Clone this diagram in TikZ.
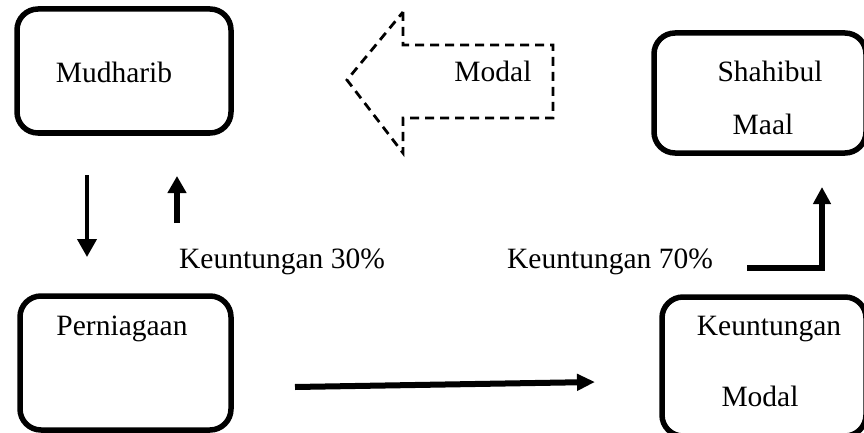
\documentclass[tikz,border=0pt]{standalone}
\usepackage{fontspec}
\setmainfont{Liberation Serif}
\usetikzlibrary{arrows.meta}
\begin{document}
\begin{tikzpicture}[x=1pt,y=-1pt,
  box/.style={draw=black,line width=5.5pt,rounded corners=21pt,inner sep=0pt,minimum width=#1},
  lbl/.style={anchor=base,inner sep=0pt,font=\fontsize{29.5}{34}\selectfont},
  hollow/.style={draw=black,line width=2.8pt,dash pattern=on 9pt off 6pt},
  flow/.style={draw=black,line width=#1,-{Triangle[length=18pt,width=19pt]}}]
\clip (0,0) rectangle (864,433);

% boxes
\node[box=214pt,minimum height=124pt] (mud) at (124,71) {};
\node[box=212pt,minimum height=120pt] (sha) at (760,93) {};
\node[box=211pt,minimum height=134pt] (per) at (125.5,363) {};
\node[box=204pt,minimum height=139pt] (keu) at (764,366.5) {};

% box texts
\node[lbl] (tmud) at (114,83) {Mudharib};
\node[lbl] (tsha1) at (770,82) {Shahibul};
\node[lbl] (tsha2) at (763,135) {Maal};
\node[lbl] (tper) at (122,335) {Perniagaan};
\node[lbl] (tkeu1) at (769,335) {Keuntungan};
\node[lbl] (tkeu2) at (760,406) {Modal};

% hollow arrow for the capital
\draw[hollow] (403,12) -- (403,45) -- (553,45) -- (553,118) -- (403,118)
  -- (403,153) -- (347,80) -- cycle;
\node[lbl] (tmodal) at (493,82) {Modal};

% profit labels
\node[lbl] (t30) at (282,268) {Keuntungan 30\%};
\node[lbl] (t70) at (610,268) {Keuntungan 70\%};

% arrow end points
\coordinate (d1) at (87,175);
\coordinate (d2) at (87,257);
\coordinate (u1) at (177,223);
\coordinate (u2) at (177,176);
\coordinate (e1) at (747,268);
\coordinate (e2) at (822,268);
\coordinate (e3) at (822,187);
\coordinate (h1) at (295,387);
\coordinate (h2) at (595,382);

% connectors
\draw[flow=4pt] (d1) -- (d2);
\draw[flow=6pt,-{Triangle[length=17pt,width=18pt]}] (u1) -- (u2);
\draw[flow=6pt,-{Triangle[length=17pt,width=17pt]}] (e1) -- (e2) -- (e3);
\draw[flow=6pt,-{Triangle[length=18pt,width=16pt]}] (h1) -- (h2);
\end{tikzpicture}
\end{document}
